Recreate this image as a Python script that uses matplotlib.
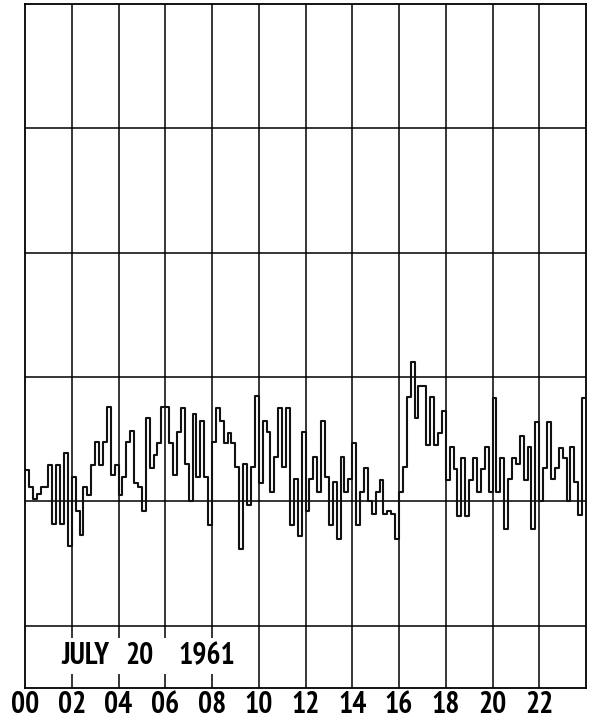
import matplotlib
matplotlib.use("Agg")
import matplotlib.pyplot as plt
from matplotlib import font_manager
from matplotlib.textpath import TextPath
import numpy as np

# 10-minute values (grid units above the baseline), 24 hours x 6 per hour
hour00 = [0.25, 0.12, 0.02, 0.06, 0.12, 0.12]
hour01 = [0.29, -0.18, 0.29, -0.18, 0.39, -0.36]
hour02 = [0.20, -0.08, -0.27, 0.12, 0.05, 0.29]
hour03 = [0.48, 0.29, 0.48, 0.76, 0.21, 0.29]
hour04 = [0.05, 0.20, 0.48, 0.57, 0.15, 0.12]
hour05 = [-0.08, 0.67, 0.27, 0.37, 0.47, 0.76]
hour06 = [0.76, 0.47, 0.21, 0.56, 0.75, 0.30]
hour07 = [0.00, 0.70, 0.20, 0.65, 0.20, -0.19]
hour08 = [0.48, 0.75, 0.65, 0.47, 0.55, 0.47]
hour09 = [0.28, -0.38, 0.30, -0.03, 0.28, 0.85]
hour10 = [0.15, 0.65, 0.56, 0.08, 0.36, 0.75]
hour11 = [0.28, 0.75, -0.19, 0.18, -0.28, 0.56]
hour12 = [-0.08, 0.18, 0.36, 0.08, 0.65, 0.20]
hour13 = [-0.19, 0.16, -0.30, 0.36, 0.08, 0.18]
hour14 = [0.47, -0.19, 0.08, 0.27, 0.00, -0.10]
hour15 = [0.08, 0.17, -0.10, -0.08, -0.10, -0.30]
hour16 = [0.08, 0.28, 0.84, 1.12, 0.67, 0.93]
hour17 = [0.93, 0.45, 0.84, 0.45, 0.55, 0.73]
hour18 = [0.17, 0.44, 0.26, -0.12, 0.35, -0.12]
hour19 = [0.17, 0.35, 0.08, 0.26, 0.44, 0.08]
hour20 = [0.83, 0.08, 0.35, -0.22, 0.18, 0.35]
hour21 = [0.30, 0.53, 0.17, 0.44, -0.22, 0.64]
hour22 = [0.00, 0.27, 0.64, 0.18, 0.27, 0.43]
hour23 = [0.35, 0.00, 0.44, 0.16, -0.11, 0.83]

values = (hour00 + hour01 + hour02 + hour03 + hour04 + hour05 + hour06 + hour07
          + hour08 + hour09 + hour10 + hour11 + hour12 + hour13 + hour14 + hour15
          + hour16 + hour17 + hour18 + hour19 + hour20 + hour21 + hour22 + hour23)
tick_hours = list(range(0, 24, 2))
tick_labels = ["00", "02", "04", "06", "08", "10", "12", "14", "16", "18", "20", "22"]
date_words = ["JULY", "20", "1961"]
date_word_hours = [1.58, 4.28, 6.55]

vals = np.array(values)
t = np.arange(len(vals) + 1) / 6.0
yv = np.append(vals, vals[-1])

# pick the installed condensed bold face whose "00" proportions best fit the print
installed = {f.name for f in font_manager.fontManager.ttflist}
candidates = ["Oswald", "Antonio", "Pathway Gothic One", "League Gothic",
              "Fira Sans Extra Condensed", "Sofia Sans Extra Condensed",
              "Saira Extra Condensed", "Roboto Condensed", "Fira Sans Condensed",
              "Saira Condensed", "Sofia Sans Condensed", "PT Sans Narrow",
              "Archivo Narrow", "Asap Condensed", "Barlow Condensed"]
best, best_err, best_h = "Barlow Condensed", 1e9, None
for c in candidates:
    if c not in installed:
        continue
    try:
        fp = font_manager.FontProperties(family=c, weight="bold")
        ext = TextPath((0, 0), "00", size=100, prop=fp).get_extents()
        ratio = ext.width / ext.height
        err = abs(ratio - 1.2)
        if err < best_err:
            best, best_err, best_h = c, err, ext.height
    except Exception:
        pass
if best_h is None:
    fp = font_manager.FontProperties(family=best, weight="bold")
    best_h = TextPath((0, 0), "00", size=100, prop=fp).get_extents().height
# font size (pt) giving ~18 px tall digits at 100 dpi (1.18 corrects the
# curve control-point overshoot in the measured extents)
fsize = 1.18 * 18.3 * 72 / best_h
fam = [best, "DejaVu Sans"]

fig = plt.figure(figsize=(5.91, 7.22), dpi=100)
ax = fig.add_axes([25 / 591, 1 - 688 / 722, 561 / 591, 684 / 722])
ax.set_xlim(0, 24)
ax.set_ylim(-1.5, 4)

for h in range(2, 24, 2):
    ax.axvline(h, color="black", lw=1.1, zorder=1)
for yl in [-1, 0, 1, 2, 3]:
    ax.axhline(yl, color="black", lw=1.1, zorder=1)

ax.step(t, yv, where="post", color="#111111", lw=1.5, zorder=3)

for s in ax.spines.values():
    s.set_color("black")
    s.set_linewidth(1.3)

ax.set_yticks([])
ax.set_xticks(tick_hours)
ax.set_xticklabels(tick_labels, family=fam, fontweight="bold", fontsize=fsize)
ax.tick_params(axis="x", length=0, pad=2)

# white band behind the date text (breaks the grid lines)
ax.axvspan(1.45, 8.3, ymin=(-1.385 + 1.5) / 5.5, ymax=(-1.1 + 1.5) / 5.5,
           color="white", zorder=4, lw=0)
for w, hx in zip(date_words, date_word_hours):
    ax.text(hx, -1.245, w, family=fam, fontweight="bold", fontsize=fsize,
            ha="left", va="center", zorder=5)

fig.savefig("out.png", dpi=100)
